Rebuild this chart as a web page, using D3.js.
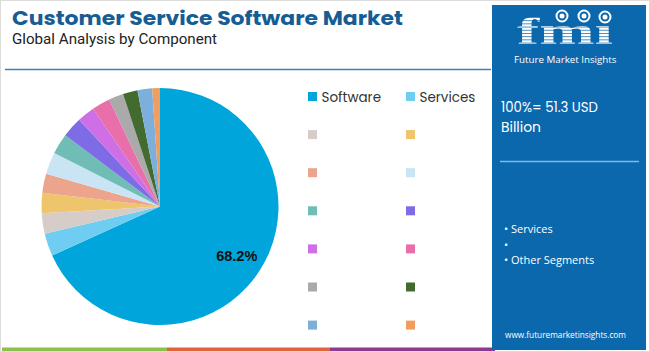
<!DOCTYPE html>
<html>
<head>
<meta charset="utf-8">
<script src="https://cdn.jsdelivr.net/npm/d3@7"></script>
<style>
  html, body { margin: 0; padding: 0; background: #fff; }
  svg { display: block; }
</style>
</head>
<body>
<div id="chart"></div>
<script>
// ==== data ====
const segments = ["Software", "Services", "", "", "", "", "", "", "", "", "", "", "", ""];
const shares = [68.2, 3.1, 2.8, 2.75, 2.6, 3.0, 2.8, 2.8, 2.4, 2.5, 2.0, 2.0, 2.0, 1.05];
const colors = ["#00a5db", "#6fcdf1", "#d6cdc9", "#eec46d", "#eca48d", "#c9e5f4", "#6fbdb5",
                "#7d6ce6", "#cf6fe6", "#e86fa9", "#aaaaaa", "#436b2f", "#7dafdc", "#f09d5f"];
const shownLabels = ["68.2%"];
const panelBullets = ["Services", "", "Other Segments"];
const totalText = ["100%= 51.3 USD", "Billion"];
const totalWidths = [97, 40];

const W = 650, H = 352;
const svg = d3.select("#chart").append("svg").attr("width", W).attr("height", H);

// shrink a text's font size until it fits the wanted width
function fitText(sel, width) {
  let fs = parseFloat(sel.attr("font-size"));
  while (sel.node().getComputedTextLength() > width && fs > 6) {
    fs -= 0.25;
    sel.attr("font-size", fs);
  }
  return sel;
}

// frame
svg.append("rect").attr("x", 0.5).attr("y", 0.5).attr("width", W - 1).attr("height", H - 1)
  .attr("fill", "#fff").attr("stroke", "#dcdcdc");

// ==== title ====
svg.append("text").attr("x", 12).attr("y", 25)
  .attr("font-family", "Poppins, 'DejaVu Sans', sans-serif").attr("font-weight", 700)
  .attr("font-size", 20).attr("fill", "#165d94")
  .attr("textLength", 391).attr("lengthAdjust", "spacingAndGlyphs")
  .text("Customer Service Software Market");
svg.append("text").attr("x", 12).attr("y", 44)
  .attr("font-family", "Roboto, sans-serif").attr("font-size", 14).attr("fill", "#222")
  .attr("textLength", 205).attr("lengthAdjust", "spacingAndGlyphs")
  .text("Global Analysis by Component");
svg.append("line").attr("x1", 5).attr("x2", 491).attr("y1", 69.5).attr("y2", 69.5)
  .attr("stroke", "#3f80bb").attr("stroke-width", 1.5);

// ==== pie ====
const cx = 160, cy = 206.5, R = 118.5;
const pie = d3.pie().sort(null).value(d => d)(shares);
const arc = d3.arc().innerRadius(0).outerRadius(R);
const labelArc = d3.arc().innerRadius(R * 0.77).outerRadius(R * 0.77);
const g = svg.append("g").attr("transform", `translate(${cx},${cy})`);
g.selectAll("path").data(pie).enter().append("path")
  .attr("d", arc).attr("fill", (d, i) => colors[i]);
g.selectAll(".lbl").data(pie.slice(0, shownLabels.length)).enter().append("text")
  .attr("class", "lbl")
  .attr("transform", d => `translate(${labelArc.centroid(d)})`)
  .attr("text-anchor", "middle").attr("dy", "0.35em")
  .attr("font-family", "'Liberation Sans', Arial, sans-serif").attr("font-weight", 700)
  .attr("font-size", 14.5).attr("fill", "#111")
  .text((d, i) => shownLabels[i]);

// ==== legend ====
const legX = [308, 406], legY0 = 96.5, legStep = 38.1;
const leg = svg.append("g");
segments.forEach((s, i) => {
  const col = i % 2, row = Math.floor(i / 2);
  const x = legX[col], y = legY0 + row * legStep;
  leg.append("rect").attr("x", x).attr("y", y - 4.5).attr("width", 9).attr("height", 9)
    .attr("fill", colors[i]);
  if (s) {
    leg.append("text").attr("x", x + 13.5).attr("y", y + 5)
      .attr("font-family", "Poppins, Roboto, sans-serif").attr("font-size", 13.5)
      .attr("fill", "#333").text(s);
  }
});

// ==== bottom colour strip ====
const strip = [["#8dbf4f", 2, 167], ["#e0643b", 167, 330], ["#8c3b8e", 330, 495]];
strip.forEach(([c, a, b]) => {
  svg.append("rect").attr("x", a).attr("y", 347.5).attr("width", b - a).attr("height", 3.5).attr("fill", c);
});

// ==== right panel ====
const panel = svg.append("g");
panel.append("rect").attr("x", 492).attr("y", 5).attr("width", 154).attr("height", 345)
  .attr("fill", "#0b68ad");

// logo
const logo = panel.append("g");
logo.append("text").attr("x", 517).attr("y", 44)
  .attr("font-family", "'Liberation Serif', serif").attr("font-weight", 700)
  .attr("font-size", 38).attr("fill", "#fff")
  .attr("textLength", 96).attr("lengthAdjust", "spacingAndGlyphs")
  .text("fmı");
d3.range(17, 45, 3.2).forEach(y => {
  logo.append("rect").attr("x", 514).attr("y", y).attr("width", 104).attr("height", 0.9)
    .attr("fill", "#0b68ad").attr("opacity", 0.8);
});
[[562, 16], [584, 16], [605, 17]].forEach(([x, y]) => {
  logo.append("circle").attr("cx", x).attr("cy", y).attr("r", 5.5)
    .attr("fill", "#0b68ad").attr("stroke", "#fff").attr("stroke-width", 2);
  logo.append("circle").attr("cx", x).attr("cy", y).attr("r", 2.5).attr("fill", "#fff");
});
fitText(logo.append("text").attr("x", 514).attr("y", 63)
  .attr("font-family", "'Open Sans', sans-serif").attr("font-size", 10).attr("fill", "#fff")
  .text("Future Market Insights"), 104);

totalText.forEach((t, i) => {
  panel.append("text").attr("x", 501).attr("y", 112 + i * 19.5)
    .attr("font-family", "Poppins, Roboto, sans-serif").attr("font-size", 15).attr("fill", "#fff")
    .attr("textLength", totalWidths[i]).attr("lengthAdjust", "spacingAndGlyphs")
    .text(t);
});
panel.append("line").attr("x1", 500).attr("x2", 639).attr("y1", 161.5).attr("y2", 161.5)
  .attr("stroke", "#7dbbe6").attr("stroke-width", 1.5);

panelBullets.forEach((t, i) => {
  panel.append("text").attr("x", 504).attr("y", 233 + i * 15.5)
    .attr("font-family", "'Open Sans', sans-serif").attr("font-size", 11).attr("fill", "#fff")
    .text("\u2022 " + t);
});
fitText(panel.append("text").attr("x", 505).attr("y", 338)
  .attr("font-family", "'Open Sans', sans-serif").attr("font-size", 10.5).attr("fill", "#fff")
  .text("www.futuremarketinsights.com"), 122);
</script>
</body>
</html>
